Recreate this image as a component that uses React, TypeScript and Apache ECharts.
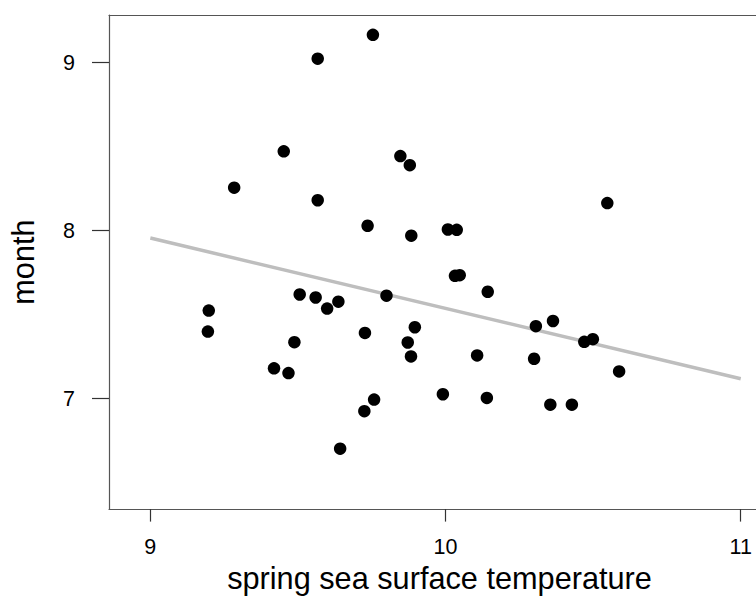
import React, { useEffect, useRef } from "react";
import * as echarts from "echarts";

const temperature: number[] = [
  9.195, 9.198, 9.284, 9.419, 9.452, 9.468, 9.488, 9.506, 9.56, 9.567, 9.567,
  9.599, 9.637, 9.643, 9.727, 9.725, 9.736, 9.754, 9.758, 9.8, 9.847, 9.872,
  9.879, 9.883, 9.884, 9.896, 9.991, 10.008, 10.038, 10.032, 10.048, 10.107,
  10.14, 10.143, 10.3, 10.306, 10.355, 10.364, 10.428, 10.47, 10.499, 10.548,
  10.588,
];
const month: number[] = [
  7.399, 7.524, 8.256, 7.18, 8.472, 7.152, 7.336, 7.62, 7.602, 9.024, 8.181,
  7.536, 7.577, 6.702, 7.391, 6.925, 8.029, 9.166, 6.994, 7.613, 8.444, 7.334,
  8.39, 7.251, 7.97, 7.425, 7.026, 8.007, 8.005, 7.731, 7.735, 7.257, 7.004,
  7.636, 7.237, 7.431, 6.964, 7.462, 6.964, 7.338, 7.354, 8.164, 7.162,
];
const fitX: number[] = [9, 11];
const fitY: number[] = [7.956, 7.118];
const xTicks: number[] = [9, 10, 11];
const yTicks: number[] = [7, 8, 9];

const FONT = "'Liberation Sans', Arial, Helvetica, sans-serif";
const BOX = "#555555";

export default function App() {
  const ref = useRef<HTMLDivElement>(null);
  useEffect(() => {
    if (!ref.current) return;
    const chart = echarts.init(ref.current, undefined, { renderer: "svg" });
    chart.setOption({
      animation: false,
      backgroundColor: "#ffffff",
      grid: {
        left: 107,
        top: 15,
        bottom: 87,
        right: 0,
        show: false,
      },
      xAxis: [
        {
          type: "value",
          min: 8.86,
          max: 11.0517,
          position: "bottom",
          splitLine: { show: false },
          axisLine: { show: true, onZero: false, lineStyle: { color: BOX, width: 1.2 } },
          axisTick: {
            show: true,
            inside: false,
            length: 12.5,
            customValues: xTicks,
            lineStyle: { color: "#333333", width: 1.2 },
          },
          axisLabel: {
            customValues: xTicks,
            margin: 27,
            fontSize: 21.5,
            fontFamily: FONT,
            color: "#000000",
            showMinLabel: true,
            showMaxLabel: true,
          },
          name: "spring sea surface temperature",
          nameLocation: "middle",
          nameGap: 46,
          nameTextStyle: {
            fontSize: 30.7,
            fontFamily: FONT,
            color: "#000000",
            padding: [0, 0, 0, 14],
          },
        },
        {
          type: "value",
          min: 8.86,
          max: 11.0517,
          position: "top",
          splitLine: { show: false },
          axisLine: { show: true, onZero: false, lineStyle: { color: BOX, width: 1.2 } },
          axisTick: { show: false },
          axisLabel: { show: false },
        },
      ],
      yAxis: {
        type: "value",
        min: 6.342,
        max: 9.284,
        splitLine: { show: false },
        axisLine: { show: true, onZero: false, lineStyle: { color: BOX, width: 1.2 } },
        axisTick: {
          show: true,
          inside: false,
          length: 17,
          customValues: yTicks,
          lineStyle: { color: "#333333", width: 1.2 },
        },
        axisLabel: {
          customValues: yTicks,
          margin: 34,
          fontSize: 21.5,
          fontFamily: FONT,
          color: "#000000",
        },
        name: "month",
        nameLocation: "middle",
        nameGap: 70,
        nameTextStyle: { fontSize: 30.7, fontFamily: FONT, color: "#000000" },
      },
      series: [
        {
          type: "line",
          xAxisIndex: 0,
          data: fitX.map((x, i) => [x, fitY[i]]),
          symbol: "none",
          lineStyle: { color: "#bebebe", width: 3.5 },
          z: 1,
          silent: true,
        },
        {
          type: "scatter",
          xAxisIndex: 0,
          data: temperature.map((x, i) => [x, month[i]]),
          symbol: "circle",
          symbolSize: 12.5,
          itemStyle: { color: "#000000", opacity: 1 },
          z: 2,
        },
      ],
    });
    return () => chart.dispose();
  }, []);
  return (
    <div
      ref={ref}
      style={{ position: "absolute", left: 0, top: 0, width: 756, height: 599 }}
    />
  );
}
